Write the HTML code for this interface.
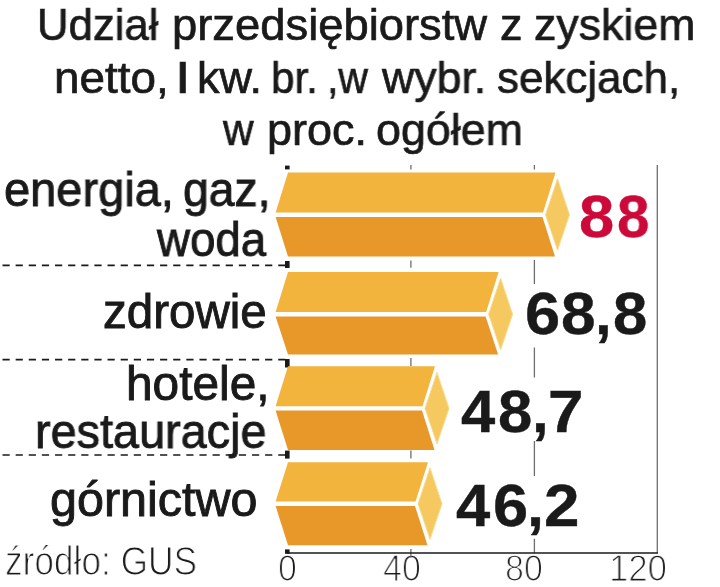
<!DOCTYPE html>
<html><head><meta charset="utf-8">
<style>
html,body{margin:0;padding:0;background:#fff;}
body{width:720px;height:587px;position:relative;overflow:hidden;font-family:"Liberation Sans",sans-serif;color:#1a1a1a;}
svg{position:absolute;left:0;top:0;}
.t{position:absolute;white-space:nowrap;line-height:1;transform-origin:0 0;will-change:transform;}
.val{font-weight:bold;-webkit-text-stroke:0.4px currentColor;}
.ttl{-webkit-text-stroke:0.7px currentColor;}
.lab{-webkit-text-stroke:0.9px currentColor;}
.src{-webkit-text-stroke:1.2px #fff;}
.ax{-webkit-text-stroke:1.25px #fff;}
</style></head><body>
<div class="t ax" id="t36" style="left:278.00px;top:550.83px;font-size:36px;transform:scaleX(0.9375);">0</div>
<div class="t ax" id="t37" style="left:383.00px;top:550.83px;font-size:36px;transform:scaleX(0.9459);">40</div>
<div class="t ax" id="t38" style="left:504.60px;top:550.83px;font-size:36px;transform:scaleX(0.9461);">80</div>
<div class="t ax" id="t39" style="left:608.60px;top:550.83px;font-size:36px;transform:scaleX(0.9656);">120</div>
<svg width="720" height="587" viewBox="0 0 720 587">
 <g stroke="#6e6e6e" stroke-width="1.3" fill="none">
  <path d="M410.9 165V169.5M410.9 260.6V267.8M410.9 358V366M410.9 450.6V458.5M410.9 549V557.7"/>
  <path d="M534.4 165V169.5M534.4 260V284M534.4 347.5V377.5M534.4 441V476M534.4 538.7V553"/>
  <path d="M657.3 165V553"/>
 </g>
 <g fill="#1a1a1a">
  <rect x="285" y="165.6" width="4.6" height="3.8"/>
  <rect x="285" y="261" width="4.6" height="7"/>
  <rect x="285" y="359" width="4.6" height="8.5"/>
  <rect x="285" y="450.6" width="4.6" height="8"/>
  <rect x="285" y="549.4" width="4.6" height="4.4"/>
 </g>
 <path d="M287 553H658" stroke="#1a1a1a" stroke-width="1.6"/>
 <g stroke="#1a1a1a" stroke-width="1.6" stroke-dasharray="7.2 5.93">
  <path d="M2.5 265.4H287"/>
  <path d="M2.5 359.6H287"/>
  <path d="M2.5 455H287"/>
 </g>
 <g>
  <polygon fill="#f2b43c" points="288,172.5 555.5,172.5 543.0,212.5 275.6,212.5"/>
  <polygon fill="#e89828" points="275.6,217.0 542.5,217.0 555.0,256.5 288,256.5"/>
  <polygon fill="#f5c860" stroke="#f9dc90" stroke-width="1" points="557.5,178.75 569.5,214.75 557.5,250.25 545.5,214.75"/>
  <polygon fill="#f2b43c" points="288,272.0 498.6,272.0 486.1,312.0 275.6,312.0"/>
  <polygon fill="#e89828" points="275.6,316.5 485.6,316.5 498.1,354.5 288,354.5"/>
  <polygon fill="#f5c860" stroke="#f9dc90" stroke-width="1" points="500.6,278.25 512.6,314.25 500.6,349.75 488.6,314.25"/>
  <polygon fill="#f2b43c" points="288,366.25 435.0,366.25 422.5,406.25 275.6,406.25"/>
  <polygon fill="#e89828" points="275.6,410.5 422.0,410.5 434.5,450.0 288,450.0"/>
  <polygon fill="#f5c860" stroke="#f9dc90" stroke-width="1" points="437.0,372.375 449.0,408.375 437.0,443.875 425.0,408.375"/>
  <polygon fill="#f2b43c" points="288,462.25 428.0,462.25 415.5,501.6 275.6,501.6"/>
  <polygon fill="#e89828" points="275.6,506.0 415.0,506.0 427.5,545.25 288,545.25"/>
  <polygon fill="#f5c860" stroke="#f9dc90" stroke-width="1" points="430.0,467.8 442.0,503.8 430.0,539.3 418.0,503.8"/>
 </g>
</svg>
<div class="t ttl" id="t0" style="left:37.00px;top:1.91px;font-size:45px;transform:scaleX(0.9713);">Udział</div>
<div class="t ttl" id="t1" style="left:172.00px;top:1.91px;font-size:45px;transform:scaleX(1.0080);">przedsiębiorstw</div>
<div class="t ttl" id="t2" style="left:499.75px;top:1.91px;font-size:45px;transform:scaleX(1.0000);">z</div>
<div class="t ttl" id="t3" style="left:534.30px;top:1.91px;font-size:45px;transform:scaleX(0.9937);">zyskiem</div>
<div class="t ttl" id="t4" style="left:54.00px;top:54.91px;font-size:45px;transform:scaleX(1.0187);">netto,</div>
<div class="t ttl" id="t5" style="left:175.00px;top:54.91px;font-size:45px;transform:scaleX(1.2343);">I</div>
<div class="t ttl" id="t6" style="left:196.75px;top:54.91px;font-size:45px;transform:scaleX(0.9959);">kw.</div>
<div class="t ttl" id="t7" style="left:271.25px;top:54.91px;font-size:45px;transform:scaleX(0.9392);">br.</div>
<div class="t ttl" id="t8" style="left:326.50px;top:54.91px;font-size:45px;transform:scaleX(0.9070);">,w</div>
<div class="t ttl" id="t9" style="left:381.75px;top:54.91px;font-size:45px;transform:scaleX(0.9928);">wybr.</div>
<div class="t ttl" id="t10" style="left:497.25px;top:54.91px;font-size:45px;transform:scaleX(0.9768);">sekcjach,</div>
<div class="t ttl" id="t11" style="left:223.00px;top:107.41px;font-size:45px;transform:scaleX(0.9412);">w</div>
<div class="t ttl" id="t12" style="left:266.75px;top:107.41px;font-size:45px;transform:scaleX(0.9973);">proc.</div>
<div class="t ttl" id="t13" style="left:375.50px;top:107.41px;font-size:45px;transform:scaleX(0.9965);">ogółem</div>
<div class="t lab" id="t14" style="left:4.00px;top:166.46px;font-size:47.3px;transform:scaleX(0.9940);">energia,</div>
<div class="t lab" id="t15" style="left:183.00px;top:166.46px;font-size:47.3px;transform:scaleX(0.9795);">gaz,</div>
<div class="t lab" id="t16" style="left:157.00px;top:215.96px;font-size:47.3px;transform:scaleX(0.9652);">woda</div>
<div class="t lab" id="t17" style="left:103.00px;top:287.96px;font-size:47.3px;transform:scaleX(1.0048);">zdrowie</div>
<div class="t lab" id="t18" style="left:126.00px;top:359.96px;font-size:47.3px;transform:scaleX(1.0111);">hotele,</div>
<div class="t lab" id="t19" style="left:35.00px;top:408.46px;font-size:47.3px;transform:scaleX(0.9892);">restauracje</div>
<div class="t lab" id="t20" style="left:50.00px;top:476.46px;font-size:47.3px;transform:scaleX(1.0250);">górnictwo</div>
<div class="t src" id="t21" style="left:5.20px;top:541.14px;font-size:40px;transform:scaleX(0.8812);">źródło: GUS</div>
<div class="t val" id="t22" style="left:579.00px;top:187.21px;font-size:60px;transform:scaleX(1.0536);color:#cc0a3a;">8</div>
<div class="t val" id="t23" style="left:617.20px;top:187.21px;font-size:60px;transform:scaleX(0.9712);color:#cc0a3a;">8</div>
<div class="t val" id="t24" style="left:525.40px;top:284.21px;font-size:60px;transform:scaleX(1.0535);">6</div>
<div class="t val" id="t25" style="left:561.20px;top:284.21px;font-size:60px;transform:scaleX(1.0359);">8</div>
<div class="t val" id="t26" style="left:595.00px;top:284.21px;font-size:60px;transform:scaleX(1.0000);">,</div>
<div class="t val" id="t27" style="left:612.60px;top:284.21px;font-size:60px;transform:scaleX(1.0262);">8</div>
<div class="t val" id="t28" style="left:461.20px;top:381.81px;font-size:60px;transform:scaleX(1.0267);">4</div>
<div class="t val" id="t29" style="left:497.80px;top:381.81px;font-size:60px;transform:scaleX(1.0262);">8</div>
<div class="t val" id="t30" style="left:531.60px;top:381.81px;font-size:60px;transform:scaleX(1.0000);">,</div>
<div class="t val" id="t31" style="left:548.20px;top:381.81px;font-size:60px;transform:scaleX(1.0626);">7</div>
<div class="t val" id="t32" style="left:456.20px;top:475.91px;font-size:60px;transform:scaleX(1.0267);">4</div>
<div class="t val" id="t33" style="left:493.00px;top:475.91px;font-size:60px;transform:scaleX(1.0535);">6</div>
<div class="t val" id="t34" style="left:527.20px;top:475.91px;font-size:60px;transform:scaleX(1.0163);">,</div>
<div class="t val" id="t35" style="left:543.80px;top:475.91px;font-size:60px;transform:scaleX(1.0626);">2</div>
</body></html>
